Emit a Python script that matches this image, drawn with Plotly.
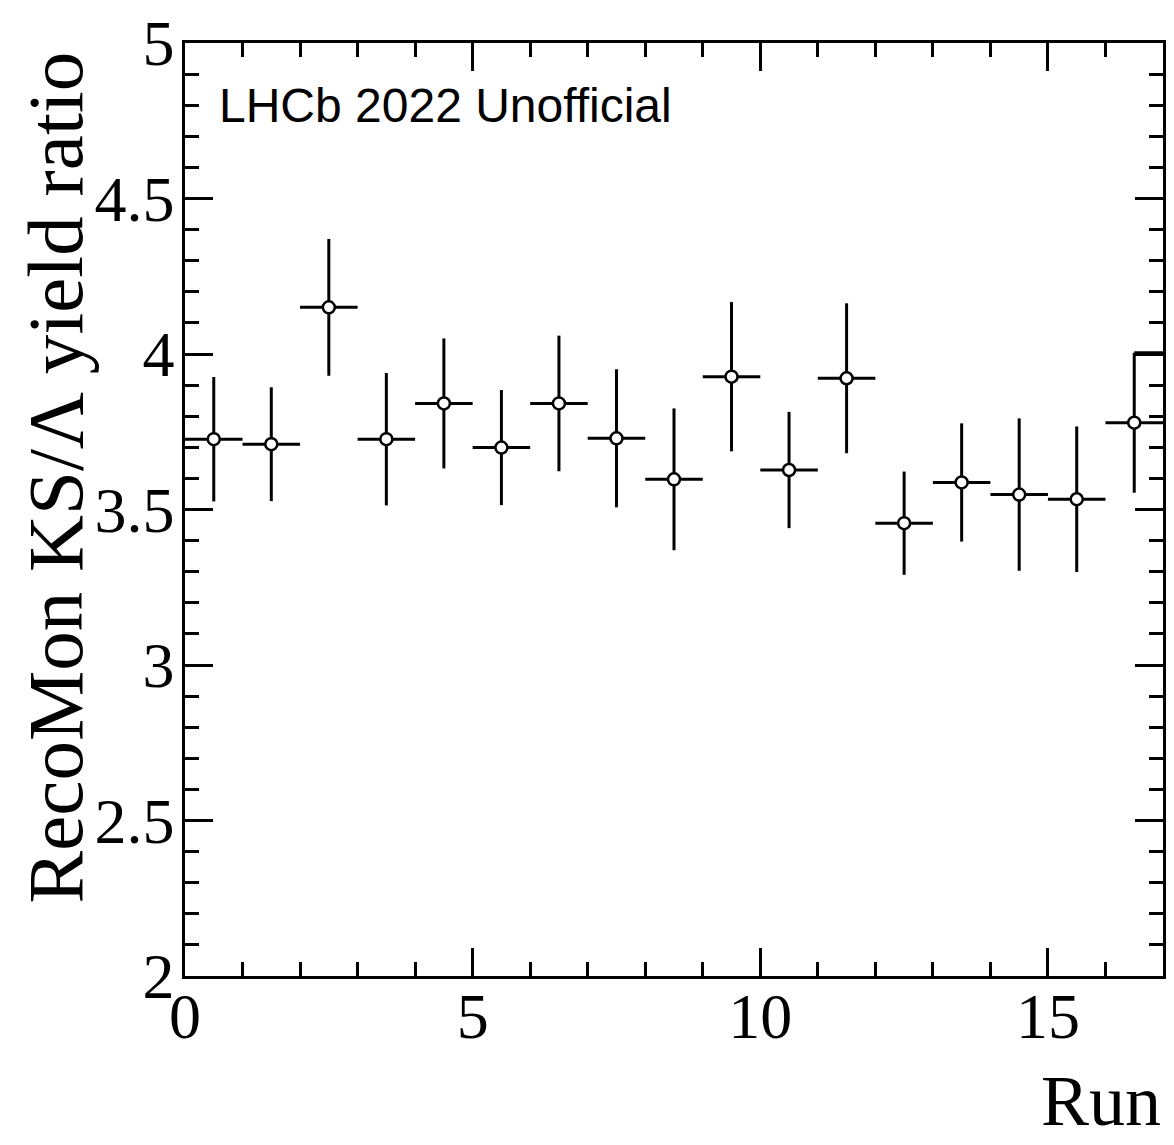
import plotly.graph_objects as go

# Data
run_centers = [0.5, 1.5, 2.5, 3.5, 4.5, 5.5, 6.5, 7.5, 8.5, 9.5, 10.5, 11.5, 12.5, 13.5, 14.5, 15.5, 16.5]
ratio = [3.726, 3.710, 4.150, 3.726, 3.841, 3.699, 3.841, 3.729, 3.597, 3.927, 3.627, 3.922, 3.456, 3.587, 3.548, 3.533, 3.779]
ratio_err = [0.200, 0.183, 0.220, 0.213, 0.209, 0.185, 0.218, 0.222, 0.228, 0.240, 0.187, 0.241, 0.166, 0.190, 0.245, 0.234, 0.225]
bin_half_width = [0.5] * len(run_centers)

x_tickvals = [0, 5, 10, 15]
x_ticktext = ["0", "5", "10", "15"]
y_tickvals = [2, 2.5, 3, 3.5, 4, 4.5, 5]
y_ticktext = ["2", "2.5", "3", "3.5", "4", "4.5", "5"]

fig = go.Figure()

# leftover histogram step at the last bin (top edge of last error bar to the frame)
last_top = ratio[-1] + ratio_err[-1]
fig.add_trace(go.Scatter(
    x=[run_centers[-1], run_centers[-1] + bin_half_width[-1]],
    y=[last_top, last_top],
    mode="lines", line=dict(color="black", width=3),
    showlegend=False, hoverinfo="skip"))

fig.add_trace(go.Scatter(
    x=run_centers, y=ratio, mode="markers",
    marker=dict(symbol="circle", size=12, color="white",
                line=dict(color="black", width=2.5)),
    error_y=dict(type="data", array=ratio_err, visible=True, width=0,
                 thickness=3, color="black"),
    error_x=dict(type="data", array=bin_half_width, visible=True, width=0,
                 thickness=3, color="black"),
    showlegend=False))

serif = "Liberation Serif"
H = 1145
plot_top, plot_bottom = 43, 976
plot_h = plot_bottom - plot_top

fig.update_layout(
    width=1174, height=H,
    margin=dict(l=185, r=8, t=plot_top, b=H - plot_bottom),
    paper_bgcolor="white", plot_bgcolor="white",
    showlegend=False,
    xaxis=dict(range=[0, 17], showgrid=False, zeroline=False,
               showline=True, linecolor="black", linewidth=2.5, mirror="allticks",
               ticks="inside", ticklen=28, tickwidth=2.5, tickcolor="black",
               tickvals=x_tickvals, ticktext=x_ticktext, ticklabelstandoff=-18,
               tickfont=dict(family=serif, size=64, color="black"),
               minor=dict(ticks="inside", ticklen=14, tickwidth=2.5, tickcolor="black", dtick=1, showgrid=False)),
    yaxis=dict(range=[2, 5], showgrid=False, zeroline=False,
               showline=True, linecolor="black", linewidth=2.5, mirror="allticks",
               ticks="inside", ticklen=28, tickwidth=2.5, tickcolor="black",
               tickvals=y_tickvals, ticktext=y_ticktext, ticklabelstandoff=-5,
               tickfont=dict(family=serif, size=64, color="black"),
               minor=dict(ticks="inside", ticklen=14, tickwidth=2.5, tickcolor="black", dtick=0.1, showgrid=False)),
    annotations=[
        dict(text="LHCb 2022 Unofficial", xref="paper", yref="paper",
             x=0.0326, y=0.9335, xanchor="left", yanchor="middle", showarrow=False,
             font=dict(family="Liberation Sans", size=48, color="black")),
        dict(text="RecoMon KS/Λ yield ratio", xref="paper", yref="paper",
             x=(55 - 185) / 981, y=(plot_bottom - 477) / plot_h, xanchor="center", yanchor="middle",
             textangle=-90, showarrow=False, font=dict(family=serif, size=79, color="black")),
        dict(text="Run", xref="paper", yref="paper",
             x=1.0, y=(plot_bottom - 1143) / plot_h, xanchor="right", yanchor="bottom",
             showarrow=False, font=dict(family=serif, size=72, color="black")),
    ],
)

fig.write_html("out.html")
